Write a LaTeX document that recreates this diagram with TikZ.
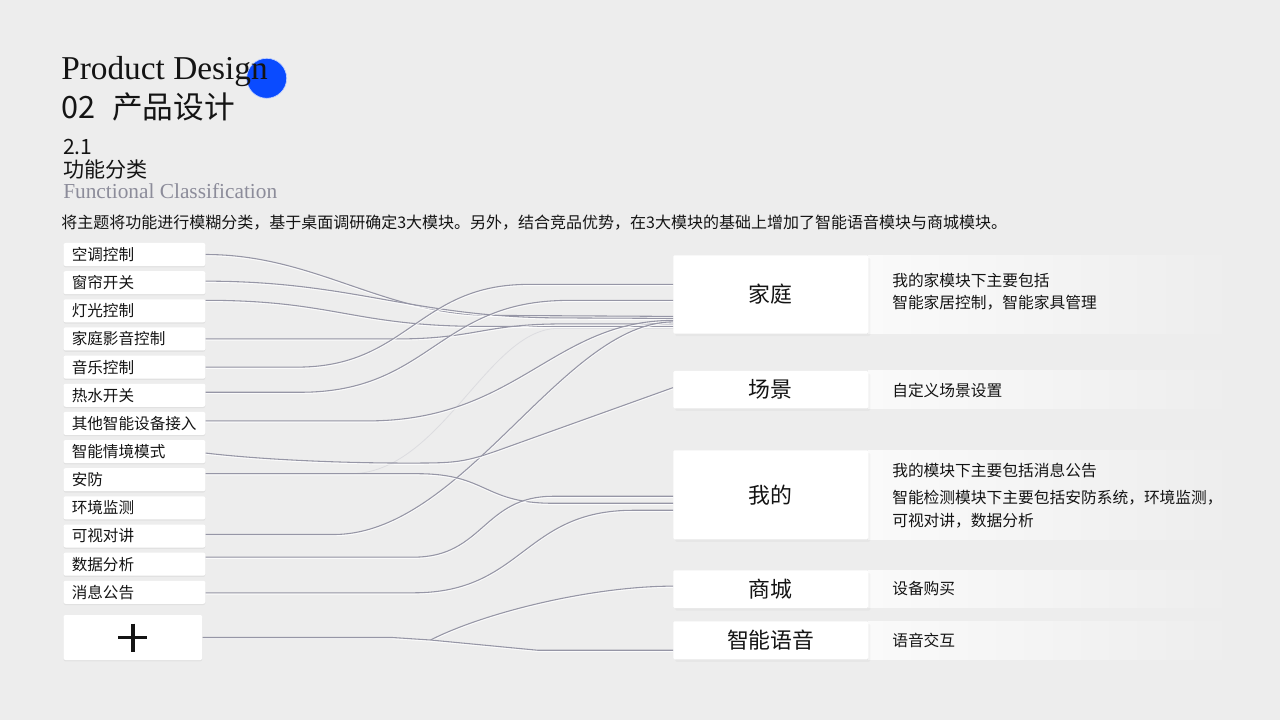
\documentclass[tikz,border=0pt]{standalone}
\usepackage{fontspec}
\setmainfont{Noto Sans CJK SC}
\newfontfamily\tms{Liberation Serif}
\usetikzlibrary{calc,shadows}
\definecolor{bg}{HTML}{EDEDED}
\definecolor{lineC}{HTML}{9696A6}
\definecolor{faintC}{HTML}{DCDCE0}
\definecolor{blueDot}{HTML}{0A4BFF}
\definecolor{subGray}{HTML}{8C8C9A}
\definecolor{panelL}{HTML}{FAFAFA}
\definecolor{ink}{HTML}{141414}
\begin{document}
\begin{tikzpicture}[x=0.75pt,y=-0.75pt,
  txt/.style={inner sep=0pt, text=ink},
  lbox/.style={anchor=west, fill=white, rounded corners=1.5pt, text width=94pt,
    inner xsep=6.15pt, inner ysep=0pt, minimum height=17.25pt, align=left,
    font=\fontsize{11.7}{13}\selectfont, text=ink,
    drop shadow={opacity=0.10, shadow xshift=0pt, shadow yshift=-1pt}},
  rbox/.style={anchor=north west, fill=white, rounded corners=1pt, minimum width=146.25pt,
    inner sep=0pt, font=\fontsize{16.4}{18}\selectfont, text=ink,
    drop shadow={opacity=0.06, shadow xshift=1.5pt, shadow yshift=-2pt}},
  desc/.style={txt, anchor=west, align=left, font=\fontsize{11.8}{16.9}\selectfont},
  conn/.style={draw=lineC, line width=0.8pt,
    preaction={draw=white, line width=0.8pt, opacity=0.8, transform canvas={yshift=-0.9pt}}},
  faint/.style={draw=faintC, line width=0.6pt}
]
\useasboundingbox (0,0) rectangle (1280,720);
\fill[bg] (0,0) rectangle (1280,720);

% header
\node[circle, fill=blueDot, draw=white!75!blueDot, line width=0.5pt, inner sep=0pt, minimum size=30pt] (dot) at (266.7,78.3) {};
\node[txt, anchor=base west, font=\tms\fontsize{25}{25}\selectfont] (title) at (61,79.5) {Product Design};
\node[txt, anchor=base west, font=\fontsize{23}{23}\selectfont] (sub) at (61,118.5) {02\hspace{7.5pt} 产品设计};
\node[txt, anchor=base west, font=\fontsize{15.8}{16}\selectfont] (sec) at (63,155) {2.1};
\node[txt, anchor=west, font=\fontsize{15.8}{16}\selectfont] (secname) at (63,170) {功能分类};
\node[txt, anchor=base west, text=subGray, font=\tms\fontsize{16}{16}\selectfont] (secen) at (63,198.3) {Functional Classification};
\node[txt, anchor=west, font=\fontsize{12}{13}\selectfont] (intro) at (61,222.5) {将主题将功能进行模糊分类，基于桌面调研确定3大模块。另外，结合竞品优势，在3大模块的基础上增加了智能语音模块与商城模块。};

% left list
\foreach \t [count=\i] in {空调控制,窗帘开关,灯光控制,家庭影音控制,音乐控制,热水开关,其他智能设备接入,智能情境模式,安防,环境监测,可视对讲,数据分析,消息公告}
  \node[lbox] (l\i) at (63.3,{254.5+28.15*(\i-1)}) {\t};
\node[anchor=west, fill=white, rounded corners=1.5pt, minimum width=104pt, minimum height=33.75pt, inner sep=0pt,
  drop shadow={opacity=0.10, shadow xshift=0pt, shadow yshift=-1pt}] (lp) at (63.3,637.5) {};
\draw[ink, line width=2.4pt] ($(lp.center)+(-14.5,0)$) -- ($(lp.center)+(14.5,0)$);
\draw[ink, line width=2.4pt] ($(lp.center)+(0,-14)$) -- ($(lp.center)+(0,14)$);

% right panels
\shade[left color=panelL, right color=bg] (868,255) rectangle (1236,333.3);
\shade[left color=panelL, right color=bg] (868,370.7) rectangle (1236,408);
\shade[left color=panelL, right color=bg] (868,450) rectangle (1236,539);
\shade[left color=panelL, right color=bg] (868,570) rectangle (1236,607.7);
\shade[left color=panelL, right color=bg] (868,621) rectangle (1236,659);

\node[rbox, minimum height=58.7pt] (r1) at (673,255) {家庭};
\node[rbox, minimum height=28pt] (r2) at (673,370.7) {场景};
\node[rbox, minimum height=66.75pt] (r3) at (673,450) {我的};
\node[rbox, minimum height=28.3pt] (r4) at (673,570) {商城};
\node[rbox, minimum height=28.5pt] (r5) at (673,621) {智能语音};

\node[desc] (d1) at (892,291.5) {我的家模块下主要包括\\智能家居控制，智能家具管理};
\node[desc] (d2) at (892,390) {自定义场景设置};
\node[desc] (d3a) at (892,470.5) {我的模块下主要包括消息公告};
\node[desc, font=\fontsize{11.8}{17.25}\selectfont] (d3b) at (892,509) {智能检测模块下主要包括安防系统，环境监测，\\可视对讲，数据分析};
\node[desc] (d4) at (892,589) {设备购买};
\node[desc] (d5) at (892,640.5) {语音交互};

% connectors
\draw[faint] ($(l9.east)+(0,-6)$) -- ($(l9.east)+(145,-6)$) .. controls +(90,0) and +(-70,0) .. ($(r1.west)+(-115,34)$) -- ($(r1.west)+(0,34)$);
\draw[conn] (l1.east) .. controls +(110,0) and +(-110,0) .. ($(r1.west)+(-180,21)$) -- ($(r1.west)+(0,22)$);
\draw[conn] ($(l2.east)+(0,-1.5)$) .. controls +(150,0) and +(-150,0) .. ($(r1.west)+(-110,23.5)$) -- ($(r1.west)+(0,24)$);
\draw[conn] ($(l3.east)+(0,-10.5)$) .. controls +(130,0) and +(-130,0) .. ($(r1.west)+(-190,32)$) -- ($(r1.west)+(0,32)$);
\draw[conn] (l4.east) -- ++(190,0) .. controls +(80,0) and +(-80,0) .. ($(r1.west)+(-110,29.5)$) -- ($(r1.west)+(0,29.5)$);
\draw[conn] (l5.east) -- ++(92,0) .. controls +(110,0) and +(-110,0) .. ($(r1.west)+(-145,-10)$) -- ($(r1.west)+(0,-10)$);
\draw[conn] ($(l6.east)+(0,-3)$) -- ++(95,0) .. controls +(130,0) and +(-130,0) .. ($(r1.west)+(-105,6)$) -- ($(r1.west)+(0,6)$);
\draw[conn] ($(l7.east)+(0,-2.5)$) -- ++(162,0) .. controls +(150,0) and +(-120,0) .. ($(r1.west)+(0,26)$);
\draw[conn] ($(l11.east)+(0,-1.5)$) -- ++(128,0) .. controls +(130,0) and +(-110,0) .. ($(r1.west)+(0,27.5)$);
\draw[conn] ($(l8.east)+(0,1.5)$) .. controls +(60,7) and +(-60,0) .. ($(l8.east)+(200,11.5)$) .. controls +(50,0) and +(-40,14.4) .. ($(r2.west)+(-170,59)$) -- ($(r2.west)+(0,-2)$);
\draw[conn] ($(l9.east)+(0,-6)$) -- ++(212,0) .. controls +(70,0) and +(-70,0) .. ($(r3.west)+(-120,8.5)$) -- ($(r3.west)+(0,8.5)$);
\draw[conn] ($(l12.east)+(0,-7)$) -- ++(208,0) .. controls +(70,0) and +(-70,0) .. ($(r3.west)+(-120,1.5)$) -- ($(r3.west)+(0,1.5)$);
\draw[conn] ($(l13.east)+(0,0.5)$) -- ++(208,0) .. controls +(110,0) and +(-110,0) .. ($(r3.west)+(-40,15.5)$) -- ($(r3.west)+(0,15.5)$);
\coordinate (j) at ($(lp.east)+(228,2.5)$);
\draw[conn] (lp.east) -- ++(190,0) -- (j);
\draw[conn] (j) .. controls +(55,-28) and +(-80,0) .. ($(r4.west)+(0,-3)$);
\draw[conn] (j) -- ($(r5.west)+(-135,10)$) -- ($(r5.west)+(0,10)$);
\end{tikzpicture}
\end{document}
